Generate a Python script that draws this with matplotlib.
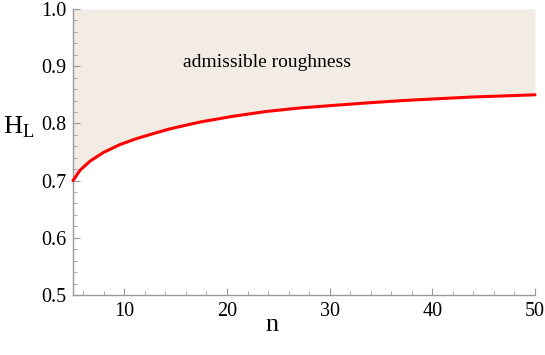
import matplotlib
matplotlib.use("Agg")
import matplotlib.pyplot as plt
from matplotlib.ticker import MultipleLocator

n_vals = [5.0, 5.68, 6.66, 7.95, 9.58, 11.2, 12.8, 14.45, 17.4, 20.6, 23.9, 27.1, 30.4,
          33.8, 37.2, 40.4, 43.7, 46.9, 50.0]
h_vals = [0.700, 0.718, 0.734, 0.749, 0.763, 0.7735, 0.782, 0.7905, 0.8025, 0.8125, 0.821,
          0.827, 0.8315, 0.836, 0.840, 0.843, 0.846, 0.848, 0.850]
region_label = "admissible roughness"
x_label = "n"
y_label = r"$\mathrm{H}_{\mathrm{L}}$"

plt.rcParams['font.family'] = ['Liberation Serif', 'DejaVu Serif']
plt.rcParams['mathtext.fontset'] = 'custom'
plt.rcParams['mathtext.rm'] = 'Liberation Serif'

fig = plt.figure(figsize=(5.45, 3.55), dpi=100)
ax = fig.add_axes([73/545, 1 - 295/355, (535-73)/545, (295-9)/355])

ax.fill_between(n_vals, h_vals, 1.0, color='#f3ece5', lw=0)
ax.plot(n_vals, h_vals, color='#ff0000', lw=2.2, solid_capstyle='round',
        solid_joinstyle='round', clip_on=False, zorder=3)

ax.set_xlim(5, 50)
ax.set_ylim(0.5, 1.0)
ax.xaxis.set_major_locator(MultipleLocator(10))
ax.xaxis.set_minor_locator(MultipleLocator(2))
ax.yaxis.set_major_locator(MultipleLocator(0.1))
ax.yaxis.set_minor_locator(MultipleLocator(0.02))
ax.set_yticks([0.5, 0.6, 0.7, 0.8, 0.9, 1.0])
ax.set_yticklabels(["0.5", "0.6", "0.7", "0.8", "0.9", "1.0"])

for s in ['top', 'right']:
    ax.spines[s].set_visible(False)
for s in ['left', 'bottom']:
    ax.spines[s].set_color('#999999')
    ax.spines[s].set_linewidth(1.0)
ax.tick_params(which='both', direction='in', color='#999999', labelsize=14.5, labelcolor='black')
ax.tick_params(which='major', length=5, width=0.8, pad=5)
ax.tick_params(which='minor', length=3, width=0.6)

ax.text(15.7, 0.907, region_label, fontsize=14, va='center', ha='left')
fig.text(272/545, 1 - 325/355, x_label, fontsize=19, ha='center', va='center')
fig.text(19/545, 1 - 127/355, y_label, fontsize=19, ha='center', va='center')

fig.savefig("out.png", dpi=100)
